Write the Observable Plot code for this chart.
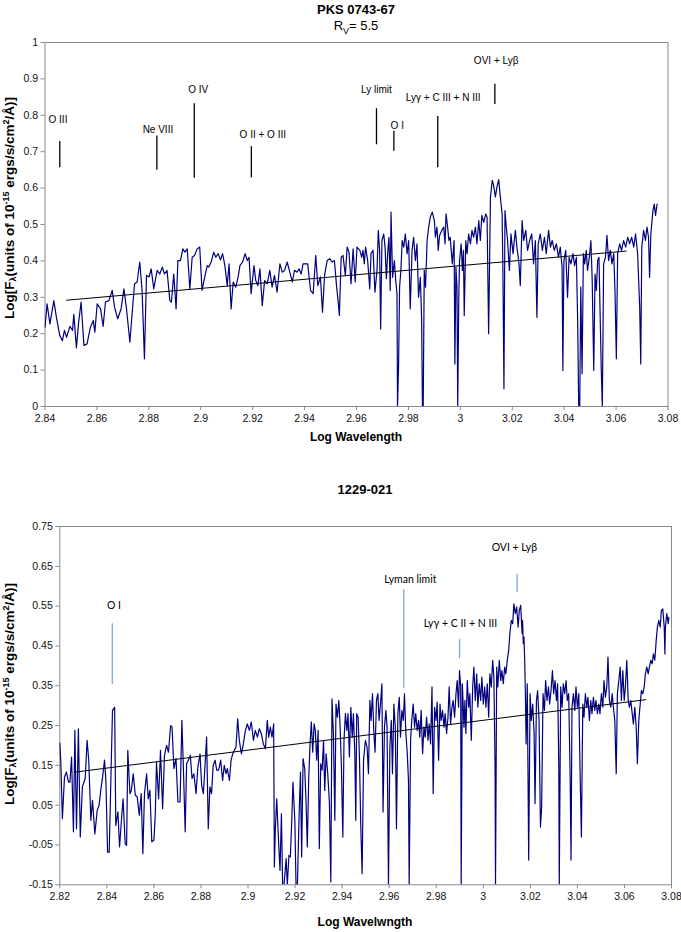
<!DOCTYPE html>
<html>
<head>
<meta charset="utf-8">
<script src="https://cdn.jsdelivr.net/npm/d3@7"></script>
<script src="https://cdn.jsdelivr.net/npm/@observablehq/plot@0.6"></script>
<style>
  html, body { margin: 0; padding: 0; background: #fff; }
  #wrap { position: relative; width: 681px; height: 932px; background: #fff; font-family: "Liberation Sans", Arial, sans-serif; color: #000; overflow: hidden; }
  .abs { position: absolute; }
  .ctr { transform: translate(-50%, -50%); white-space: nowrap; }
  .ttl { font-weight: bold; font-size: 13px; }
  .sub { font-size: 13px; }
  .xl { font-weight: bold; font-size: 12px; }
  .yl { font-weight: bold; font-size: 13.5px; transform: translate(-50%, -50%) rotate(-90deg); white-space: nowrap; line-height: 1; }
  .yl sub, .yl sup, .sub sub { font-size: 9px; }
  .yl sup { vertical-align: 5px; }
  .yl sub { vertical-align: -2px; }
  svg { position: absolute; left: 0; }
</style>
</head>
<body>
<div id="wrap">
  <div class="abs ctr ttl" style="left:356px; top:9px;">PKS 0743-67</div>
  <div class="abs ctr sub" style="left:356px; top:27px;">R<sub>V</sub>= 5.5</div>
  <div class="abs ctr xl" style="left:356px; top:437px;">Log Wavelength</div>
  <div class="abs yl" style="left:10px; top:208px;">Log[F<sub>λ</sub>(units of 10<sup>-15</sup> ergs/s/cm<sup>2</sup>/Å)]</div>

  <div class="abs ctr ttl" style="left:365px; top:489px;">1229-021</div>
  <div class="abs ctr xl" style="left:365px; top:922px;">Log Wavelwngth</div>
  <div class="abs yl" style="left:10px; top:694px;">Log[F<sub>λ</sub>(units of 10<sup>-15</sup> ergs/s/cm<sup>2</sup>/Å)]</div>
</div>
<script>
// ---------- PKS 0743-67 (top panel) ----------
const topXTicks = [2.84, 2.86, 2.88, 2.9, 2.92, 2.94, 2.96, 2.98, 3, 3.02, 3.04, 3.06, 3.08];
const topYTicks = [0, 0.1, 0.2, 0.3, 0.4, 0.5, 0.6, 0.7, 0.8, 0.9, 1];

const topWl = [
2.8400,2.8408,2.8419,2.8434,2.8444,2.8457,2.8467,2.8475,2.8483,2.8496,2.8506,2.8511,2.8521,2.8529,2.8539,2.8550,2.8562,2.8575,2.8586,2.8592,
2.8601,2.8614,2.8624,2.8633,2.8646,2.8659,2.8668,2.8680,2.8693,2.8704,2.8714,2.8727,2.8737,2.8745,2.8755,2.8765,2.8774,2.8783,2.8791,2.8801,
2.8809,2.8819,2.8832,2.8842,2.8852,2.8860,2.8870,2.8881,2.8887,2.8896,2.8905,2.8912,2.8922,2.8931,2.8939,2.8948,2.8958,2.8967,2.8976,2.8986,
2.8996,2.9005,2.9014,2.9025,2.9031,2.9040,2.9050,2.9058,2.9067,2.9076,2.9084,2.9093,2.9102,2.9109,2.9117,2.9125,2.9135,2.9144,2.9151,2.9161,
2.9171,2.9179,2.9186,2.9194,2.9205,2.9212,2.9220,2.9228,2.9237,2.9246,2.9256,2.9266,2.9275,2.9284,2.9294,2.9305,2.9314,2.9323,2.9333,2.9343,
2.9353,2.9361,2.9371,2.9379,2.9387,2.9394,2.9403,2.9412,2.9423,2.9433,2.9443,2.9451,2.9461,2.9469,2.9477,2.9487,2.9497,2.9506,2.9515,2.9523,
2.9529,2.9534,2.9541,2.9548,2.9557,2.9564,2.9571,2.9579,2.9587,2.9595,2.9602,2.9613,2.9620,2.9625,2.9630,2.9635,2.9643,2.9651,2.9656,2.9664,
2.9671,2.9679,2.9684,2.9689,2.9693,2.9698,2.9705,2.9710,2.9715,2.9720,2.9725,2.9730,2.9733,2.9739,2.9746,2.9751,2.9756,2.9758,2.9762,2.9766,
2.9771,2.9776,2.9782,2.9788,2.9795,2.9801,2.9807,2.9814,2.9820,2.9827,2.9833,2.9839,2.9846,2.9851,2.9854,2.9857,2.9861,2.9866,2.9872,2.9878,
2.9884,2.9892,2.9900,2.9904,2.9910,2.9915,2.9920,2.9929,2.9936,2.9941,2.9945,2.9951,2.9956,2.9961,2.9969,2.9976,2.9979,2.9983,2.9987,2.9990,
2.9994,2.9997,3.0003,3.0008,3.0012,3.0015,3.0021,3.0026,3.0032,3.0039,3.0045,3.0051,3.0058,3.0064,3.0071,3.0077,3.0083,3.0090,3.0098,3.0103,
3.0109,3.0116,3.0123,3.0128,3.0135,3.0141,3.0148,3.0154,3.0161,3.0164,3.0168,3.0172,3.0177,3.0182,3.0189,3.0195,3.0203,3.0212,3.0218,3.0226,
3.0231,3.0238,3.0244,3.0252,3.0259,3.0267,3.0275,3.0282,3.0289,3.0295,3.0300,3.0308,3.0316,3.0324,3.0331,3.0340,3.0347,3.0354,3.0362,3.0370,
3.0378,3.0385,3.0392,3.0395,3.0399,3.0406,3.0413,3.0419,3.0426,3.0434,3.0440,3.0447,3.0452,3.0456,3.0460,3.0464,3.0469,3.0474,3.0479,3.0485,
3.0490,3.0497,3.0503,3.0508,3.0514,3.0519,3.0524,3.0529,3.0534,3.0539,3.0543,3.0547,3.0552,3.0559,3.0565,3.0571,3.0578,3.0584,3.0591,3.0596,
3.0601,3.0606,3.0614,3.0621,3.0629,3.0637,3.0645,3.0652,3.0660,3.0668,3.0675,3.0683,3.0691,3.0695,3.0699,3.0706,3.0713,3.0719,3.0725,3.0729,
3.0734,3.0742,3.0747,3.0752,3.0758
];
const topFlux = [
0.218,0.282,0.227,0.291,0.245,0.195,0.181,0.209,0.190,0.220,0.209,0.253,0.161,0.227,0.287,0.168,0.172,0.218,0.236,0.204,
0.282,0.268,0.220,0.287,0.291,0.319,0.273,0.241,0.268,0.323,0.268,0.177,0.268,0.337,0.342,0.397,0.319,0.131,0.360,0.356,
0.378,0.323,0.374,0.364,0.383,0.364,0.374,0.291,0.287,0.364,0.268,0.401,0.401,0.433,0.424,0.433,0.323,0.410,0.415,0.433,
0.438,0.319,0.351,0.387,0.383,0.397,0.424,0.410,0.420,0.403,0.420,0.387,0.332,0.392,0.268,0.342,0.328,0.356,0.387,0.397,
0.420,0.401,0.410,0.310,0.387,0.346,0.332,0.378,0.277,0.346,0.337,0.374,0.328,0.360,0.314,0.392,0.369,0.374,0.397,0.369,
0.342,0.374,0.369,0.378,0.364,0.392,0.392,0.392,0.319,0.310,0.415,0.332,0.356,0.259,0.360,0.401,0.406,0.397,0.401,0.332,
0.291,0.250,0.410,0.415,0.360,0.438,0.424,0.337,0.433,0.342,0.438,0.429,0.410,0.429,0.392,0.438,0.401,0.323,0.420,0.429,
0.314,0.374,0.484,0.429,0.213,0.456,0.474,0.438,0.351,0.420,0.465,0.319,0.534,0.355,0.401,0.346,0.310,0.000,0.108,0.328,
0.374,0.456,0.438,0.474,0.420,0.456,0.268,0.429,0.465,0.401,0.447,0.300,0.355,0.236,0.000,0.000,0.374,0.328,0.456,0.493,
0.520,0.534,0.510,0.465,0.493,0.429,0.470,0.484,0.493,0.447,0.529,0.493,0.456,0.465,0.392,0.456,0.117,0.383,0.328,0.000,
0.300,0.401,0.447,0.374,0.429,0.250,0.456,0.420,0.474,0.447,0.484,0.465,0.493,0.447,0.511,0.456,0.525,0.506,0.529,0.520,
0.200,0.575,0.621,0.608,0.576,0.603,0.623,0.576,0.529,0.374,0.049,0.538,0.493,0.456,0.374,0.474,0.420,0.484,0.438,0.392,
0.332,0.511,0.456,0.484,0.429,0.456,0.474,0.392,0.456,0.245,0.447,0.474,0.429,0.465,0.420,0.484,0.438,0.456,0.429,0.447,
0.410,0.438,0.383,0.099,0.401,0.429,0.300,0.410,0.392,0.420,0.387,0.410,0.236,0.000,0.000,0.328,0.090,0.420,0.392,0.429,
0.374,0.410,0.456,0.346,0.099,0.364,0.319,0.401,0.410,0.236,0.099,0.000,0.392,0.410,0.470,0.401,0.429,0.392,0.420,0.310,
0.131,0.420,0.447,0.429,0.456,0.438,0.465,0.447,0.465,0.438,0.474,0.420,0.273,0.117,0.438,0.484,0.456,0.493,0.465,0.355,
0.474,0.538,0.556,0.525,0.556
];
const topTrendWl = [2.8483, 3.0639];
const topTrendFlux = [0.292, 0.427];

const topLineLabels = ["O III", "Ne VIII", "O IV", "O II + O III", "Ly limit", "O I", "Lyγ + C III + N III", "OVI + Lyβ"];
const topLineWl     = [2.8457, 2.8831, 2.8975, 2.9195, 2.9677, 2.9744, 2.9913, 3.0133];
const topLineTop    = [0.728, 0.743, 0.832, 0.714, 0.818, 0.756, 0.797, 0.885];
const topLineBottom = [0.656, 0.649, 0.627, 0.628, 0.719, 0.701, 0.656, 0.830];
const topLabelWl    = [2.8450, 2.8835, 2.8990, 2.9239, 2.9677, 2.9757, 2.9934, 3.0138];
const topLabelFlux  = [0.788, 0.761, 0.870, 0.746, 0.870, 0.772, 0.848, 0.951];

// ---------- 1229-021 (bottom panel) ----------
const botXTicks = [2.82, 2.84, 2.86, 2.88, 2.9, 2.92, 2.94, 2.96, 2.98, 3, 3.02, 3.04, 3.06, 3.08];
const botYTicks = [-0.15, -0.05, 0.05, 0.15, 0.25, 0.35, 0.45, 0.55, 0.65, 0.75];

const botWl = [
2.8200,2.8204,2.8211,2.8220,2.8228,2.8237,2.8243,2.8250,2.8258,2.8264,2.8271,2.8279,2.8287,2.8296,2.8308,2.8316,2.8323,2.8332,2.8339,2.8349,
2.8359,2.8367,2.8376,2.8382,2.8390,2.8396,2.8403,2.8410,2.8417,2.8424,2.8433,2.8438,2.8447,2.8454,2.8462,2.8469,2.8478,2.8484,2.8489,2.8498,
2.8504,2.8512,2.8521,2.8529,2.8538,2.8546,2.8553,2.8560,2.8569,2.8576,2.8583,2.8591,2.8600,2.8606,2.8611,2.8620,2.8628,2.8637,2.8645,2.8654,
2.8662,2.8671,2.8677,2.8685,2.8694,2.8702,2.8711,2.8719,2.8726,2.8733,2.8739,2.8746,2.8755,2.8762,2.8770,2.8779,2.8787,2.8796,2.8803,2.8810,
2.8817,2.8824,2.8831,2.8838,2.8845,2.8852,2.8860,2.8867,2.8875,2.8884,2.8892,2.8899,2.8906,2.8912,2.8921,2.8928,2.8935,2.8942,2.8949,2.8956,
2.8963,2.8972,2.8980,2.8989,2.8997,2.9006,2.9014,2.9023,2.9031,2.9040,2.9048,2.9057,2.9065,2.9074,2.9082,2.9088,2.9095,2.9102,2.9109,2.9112,
2.9116,2.9122,2.9129,2.9136,2.9142,2.9147,2.9153,2.9162,2.9167,2.9174,2.9180,2.9186,2.9191,2.9199,2.9204,2.9210,2.9217,2.9223,2.9228,2.9234,
2.9241,2.9247,2.9252,2.9258,2.9264,2.9269,2.9275,2.9281,2.9286,2.9292,2.9298,2.9303,2.9309,2.9315,2.9321,2.9326,2.9332,2.9339,2.9346,2.9352,
2.9357,2.9363,2.9369,2.9374,2.9380,2.9386,2.9391,2.9397,2.9403,2.9408,2.9414,2.9420,2.9425,2.9431,2.9437,2.9443,2.9448,2.9454,2.9458,2.9462,
2.9468,2.9474,2.9479,2.9485,2.9491,2.9499,2.9506,2.9512,2.9518,2.9523,2.9529,2.9535,2.9540,2.9546,2.9552,2.9557,2.9563,2.9569,2.9574,2.9580,
2.9586,2.9591,2.9597,2.9603,2.9609,2.9614,2.9620,2.9626,2.9631,2.9637,2.9643,2.9648,2.9654,2.9660,2.9665,2.9671,2.9677,2.9682,2.9685,2.9691,
2.9696,2.9702,2.9708,2.9713,2.9719,2.9725,2.9730,2.9736,2.9742,2.9748,2.9753,2.9759,2.9765,2.9770,2.9776,2.9782,2.9787,2.9793,2.9799,2.9804,
2.9810,2.9816,2.9821,2.9827,2.9833,2.9838,2.9844,2.9850,2.9855,2.9861,2.9867,2.9872,2.9878,2.9884,2.9889,2.9895,2.9899,2.9904,2.9906,2.9911,
2.9918,2.9922,2.9926,2.9932,2.9938,2.9943,2.9949,2.9955,2.9960,2.9966,2.9972,2.9977,2.9983,2.9989,2.9994,3.0000,3.0006,3.0011,3.0017,3.0023,
3.0028,3.0034,3.0040,3.0045,3.0050,3.0052,3.0057,3.0062,3.0068,3.0074,3.0079,3.0085,3.0091,3.0096,3.0102,3.0108,3.0113,3.0119,3.0125,3.0130,
3.0136,3.0142,3.0148,3.0153,3.0159,3.0165,3.0167,3.0170,3.0173,3.0176,3.0179,3.0182,3.0187,3.0193,3.0199,3.0204,3.0210,3.0216,3.0220,3.0226,
3.0231,3.0237,3.0243,3.0248,3.0254,3.0260,3.0265,3.0271,3.0277,3.0282,3.0288,3.0294,3.0299,3.0305,3.0311,3.0316,3.0321,3.0323,3.0329,3.0335,
3.0340,3.0346,3.0352,3.0357,3.0363,3.0369,3.0373,3.0377,3.0383,3.0389,3.0394,3.0400,3.0406,3.0411,3.0417,3.0423,3.0428,3.0434,3.0440,3.0445,
3.0451,3.0457,3.0462,3.0468,3.0474,3.0479,3.0485,3.0491,3.0496,3.0502,3.0508,3.0513,3.0519,3.0525,3.0530,3.0536,3.0542,3.0548,3.0553,3.0559,
3.0565,3.0570,3.0576,3.0582,3.0587,3.0593,3.0599,3.0604,3.0610,3.0616,3.0621,3.0627,3.0633,3.0638,3.0644,3.0650,3.0655,3.0661,3.0667,3.0672,
3.0678,3.0684,3.0689,3.0695,3.0701,3.0706,3.0712,3.0718,3.0723,3.0729,3.0735,3.0740,3.0746,3.0752,3.0757,3.0763,3.0769,3.0772,3.0774,3.0780,
3.0786,3.0789
];
const botFlux = [
0.206,0.163,0.016,0.121,0.133,0.108,0.108,0.171,-0.017,0.238,-0.009,0.242,-0.030,0.096,0.117,0.213,0.163,0.012,0.062,-0.022,
0.037,0.050,0.096,0.121,0.163,0.112,-0.068,-0.068,0.112,0.288,0.296,-0.001,0.033,-0.055,0.012,0.066,-0.047,-0.051,0.188,0.079,
0.087,0.129,0.075,0.071,0.025,0.079,-0.072,0.079,0.129,0.066,0.087,-0.042,-0.038,0.029,0.158,0.066,0.188,0.041,0.175,0.200,
0.183,0.250,0.246,0.142,0.167,0.058,0.058,0.263,0.129,-0.017,0.154,0.163,0.175,0.117,0.129,0.079,0.146,0.179,0.100,0.079,
0.146,0.221,-0.009,0.096,0.079,0.150,0.163,0.138,0.138,0.163,0.112,0.150,0.129,0.142,0.112,0.163,0.179,0.188,0.196,0.267,
0.213,0.179,0.204,0.238,0.254,0.238,0.259,0.213,0.238,0.221,0.242,0.229,0.204,0.192,0.263,0.221,0.246,0.221,0.254,-0.105,
-0.013,0.066,-0.030,-0.114,0.029,-0.150,-0.150,-0.084,-0.150,-0.076,-0.080,0.012,0.108,0.012,-0.150,-0.150,0.021,0.133,-0.080,0.167,
0.142,0.054,-0.055,0.117,0.208,0.259,0.183,0.254,0.238,0.163,0.238,-0.059,0.154,0.138,0.213,0.087,0.179,0.129,0.054,-0.143,
0.317,0.229,0.012,0.304,0.271,0.313,0.254,0.146,-0.030,0.213,0.280,0.238,0.280,0.171,0.296,0.221,0.280,0.179,0.012,0.280,
0.271,0.163,0.004,-0.122,0.163,0.213,0.196,0.129,0.313,0.263,0.330,0.230,0.183,0.313,0.330,0.263,0.304,0.355,0.033,0.246,
0.288,0.246,-0.150,0.196,0.263,0.129,0.304,0.246,-0.009,0.280,0.321,0.221,0.288,0.263,0.330,0.230,0.179,0.112,-0.150,0.213,
0.263,0.304,0.246,0.280,0.238,0.263,0.221,0.288,0.179,0.246,0.221,0.271,0.213,0.254,0.204,0.347,0.079,0.296,0.263,0.309,
0.163,0.304,0.263,0.288,0.246,0.280,0.230,0.271,0.347,0.254,0.296,0.313,0.271,0.330,0.363,0.296,0.388,0.347,-0.150,0.355,
0.246,0.313,0.230,0.363,0.296,0.330,0.213,0.347,0.397,0.313,0.380,0.296,0.355,0.313,0.372,0.304,0.347,0.296,0.355,0.271,
0.380,0.347,0.414,0.372,0.154,-0.150,0.397,0.347,0.414,0.363,0.388,0.355,0.397,0.380,0.414,0.439,0.481,0.514,0.506,0.556,
0.531,0.548,0.497,0.539,0.552,0.481,0.514,0.456,0.472,0.414,0.330,0.204,0.355,-0.088,0.330,0.263,0.304,0.230,0.054,0.313,
0.338,0.263,-0.005,0.045,0.330,0.288,0.363,0.313,0.347,0.304,0.338,0.388,0.330,0.363,0.313,0.355,0.146,-0.150,0.347,0.296,
0.355,0.330,0.363,0.313,0.330,0.129,-0.088,0.296,0.330,0.288,0.347,0.296,0.330,0.146,-0.030,0.304,0.271,0.330,0.296,0.321,
0.263,0.313,0.280,0.321,0.288,0.313,0.280,0.304,0.280,0.330,0.296,0.363,0.321,0.347,0.422,0.313,0.296,0.330,0.296,0.263,
0.129,0.330,0.363,0.397,0.313,0.388,0.313,0.347,0.414,0.313,0.296,0.313,0.280,0.254,0.296,0.246,0.154,0.263,0.304,0.338,
0.330,0.347,0.380,0.397,0.380,0.397,0.414,0.405,0.430,0.414,0.464,0.497,0.514,0.497,0.539,0.543,0.497,0.430,0.497,0.531,
0.506,0.522
];
const botTrendWl = [2.8264, 3.0690];
const botTrendFlux = [0.133, 0.315];

const botLineLabels = ["O I", "Lyman limit", "Lyγ + C II + N III", "OVI + Lyβ"];
const botLineWl     = [2.8423, 2.9662, 2.9899, 3.0144];
const botLineTop    = [0.506, 0.591, 0.466, 0.630];
const botLineBottom = [0.353, 0.344, 0.418, 0.584];
const botLabelWl    = [2.8430, 2.9690, 2.9903, 3.0132];
const botLabelFlux  = [0.550, 0.617, 0.506, 0.697];

// ---------- drawing ----------
const fmt = d => String(+d.toFixed(2));
const spectrumColor = "#000080";
const axisGray = "#8a8a8a";

function panel(cfg) {
  const spec = cfg.wl.map((w, i) => ({w, f: cfg.flux[i]}));
  const trend = cfg.trendWl.map((w, i) => ({w, f: cfg.trendFlux[i]}));
  const ann = cfg.labels.map((t, i) => ({t, x: cfg.lineWl[i], y1: cfg.lineBottom[i], y2: cfg.lineTop[i], lx: cfg.labelWl[i], ly: cfg.labelFlux[i]}));
  return Plot.plot({
    width: 681,
    height: cfg.height,
    marginTop: cfg.mt, marginBottom: cfg.mb, marginLeft: cfg.ml, marginRight: cfg.mr,
    style: {fontFamily: "'Liberation Sans', Arial, sans-serif", fontSize: "10.5px", background: "transparent", color: "#000"},
    x: {domain: cfg.xDomain, ticks: cfg.xTicks},
    y: {domain: cfg.yDomain, ticks: cfg.yTicks},
    marks: [
      Plot.frame({stroke: axisGray, strokeWidth: 1}),
      Plot.axisX({ticks: cfg.xTicks, tickFormat: fmt, tickSize: 4, tickPadding: 4, label: null, stroke: axisGray, fill: "#111"}),
      Plot.axisY({ticks: cfg.yTicks, tickFormat: fmt, tickSize: 4, tickPadding: 3, label: null, stroke: axisGray, fill: "#111"}),
      Plot.line(spec, {x: "w", y: "f", stroke: spectrumColor, strokeWidth: 1.2, clip: true}),
      Plot.line(trend, {x: "w", y: "f", stroke: "#000", strokeWidth: 1}),
      Plot.ruleX(ann, {x: "x", y1: "y1", y2: "y2", stroke: cfg.annColor, strokeWidth: 1.3}),
      Plot.text(ann, {x: "lx", y: "ly", text: "t", fill: "#000", fontSize: cfg.annSize, fontFamily: cfg.annFont})
    ]
  });
}

const topChart = panel({
  wl: topWl, flux: topFlux, trendWl: topTrendWl, trendFlux: topTrendFlux,
  labels: topLineLabels, lineWl: topLineWl, lineTop: topLineTop, lineBottom: topLineBottom, labelWl: topLabelWl, labelFlux: topLabelFlux,
  xDomain: [2.84, 3.08], yDomain: [0, 1], xTicks: topXTicks, yTicks: topYTicks,
  height: 410, mt: 10, mb: 36, ml: 44.5, mr: 13.5,
  annColor: "#000", annSize: 10, annFont: "'Liberation Sans', Arial, sans-serif"
});
topChart.style.top = "32px";

const botChart = panel({
  wl: botWl, flux: botFlux, trendWl: botTrendWl, trendFlux: botTrendFlux,
  labels: botLineLabels, lineWl: botLineWl, lineTop: botLineTop, lineBottom: botLineBottom, labelWl: botLabelWl, labelFlux: botLabelFlux,
  xDomain: [2.82, 3.08], yDomain: [-0.15, 0.75], xTicks: botXTicks, yTicks: botYTicks,
  height: 405, mt: 10, mb: 36.7, ml: 59.3, mr: 10,
  annColor: "#7ea6d8", annSize: 10.5, annFont: "Lato, 'Open Sans', sans-serif"
});
botChart.style.top = "516px";

const wrapEl = document.getElementById("wrap");
wrapEl.appendChild(topChart);
wrapEl.appendChild(botChart);
</script>
</body>
</html>
